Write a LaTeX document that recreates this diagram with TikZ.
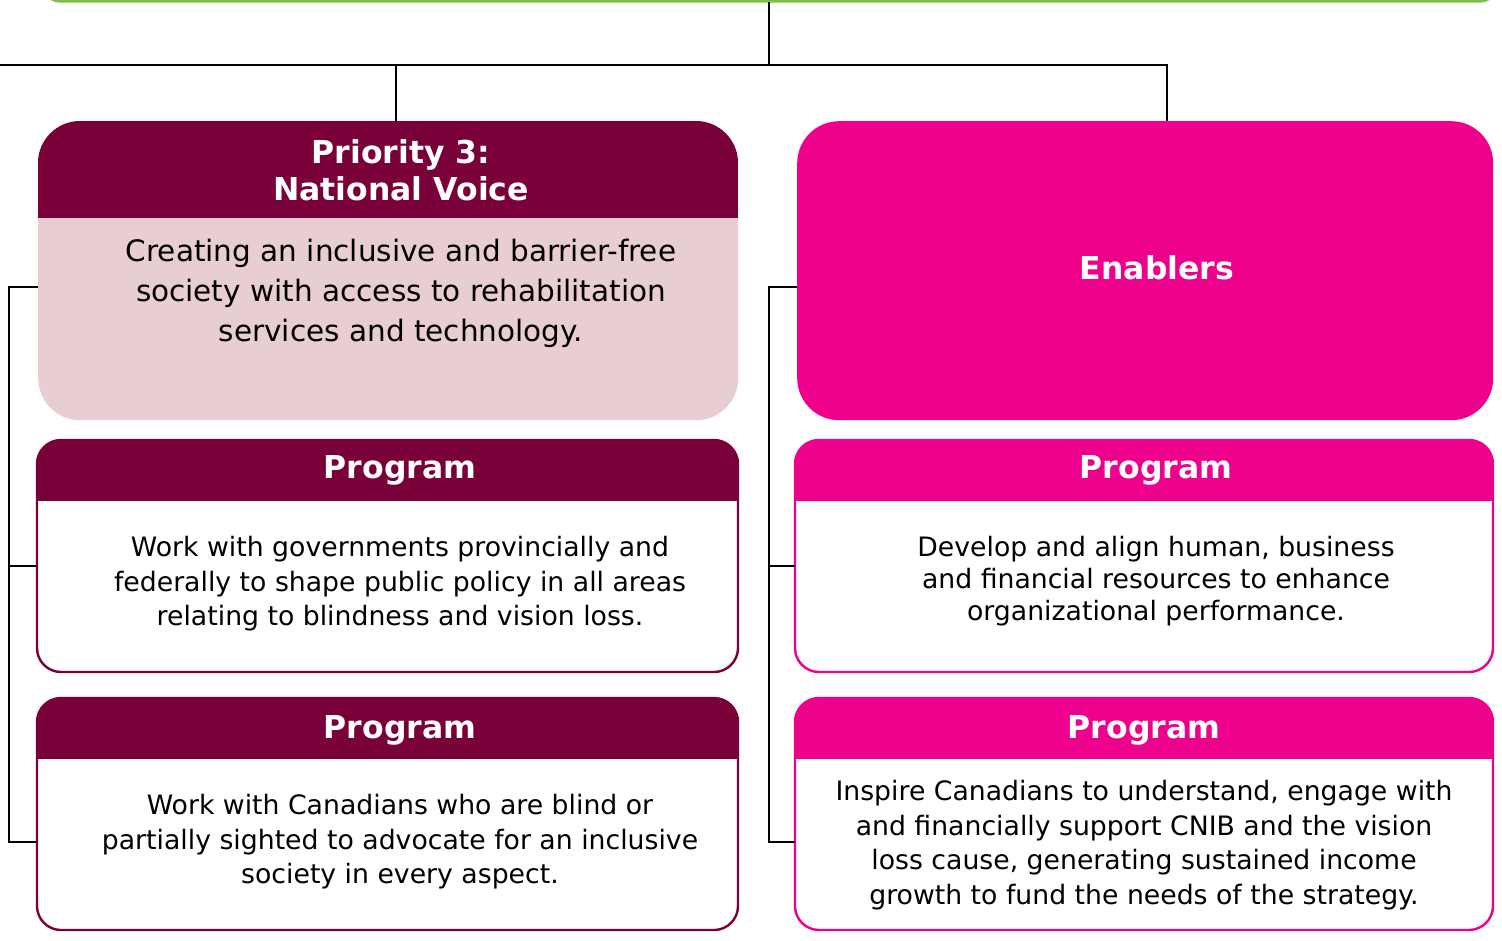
\documentclass[tikz,border=0pt]{standalone}
\usepackage{fontspec}
\setmainfont{DejaVu Sans}
\definecolor{wine}{HTML}{7A0039}
\definecolor{winelight}{HTML}{E8CDD3}
\definecolor{mag}{HTML}{EC008C}
\definecolor{lime}{HTML}{7DC242}
\tikzset{
  conn/.style={draw=black, line width=1.6pt},
  bigbox/.style={rectangle, rounded corners=42pt, minimum width=700pt, minimum height=299pt, anchor=north west, inner sep=0pt},
  progbox/.style={rectangle, rounded corners=24pt, minimum width=701pt, minimum height=232pt, anchor=north west, inner sep=0pt, line width=2.4pt},
  hdr/.style={text=white, font=\bfseries\fontsize{31.5}{36}\selectfont, align=center},
  bodytxt/.style={text=black, font=\fontsize{26.7}{34.5}\selectfont, align=center},
}
\begin{document}
\begin{tikzpicture}[x=1pt,y=-1pt]
\useasboundingbox (0,0) rectangle (1502,940);
% top green box bottom edge
\begin{scope}
\clip (0,0) rectangle (1502,940);
\draw[lime, line width=4pt, rounded corners=14pt] (45,-40) -- (45,0.5) -- (1495,0.5) -- (1495,-40);
\end{scope}
\coordinate (top) at (769,2);
\coordinate (busL) at (0,65);
\coordinate (busM) at (769,65);

% Priority 3 box
\node[bigbox, fill=winelight] (p3) at (38,121) {};
\begin{scope}
\clip[rounded corners=42pt] (38,121) rectangle (738,420);
\fill[wine] (38,121) rectangle (738,218);
\end{scope}
\node[hdr, font=\bfseries\fontsize{31.5}{37}\selectfont] (p3h) at (401,170) {Priority 3:\\National Voice};
\node[bodytxt, font=\fontsize{29.5}{40}\selectfont] (p3b) at (401,293) {Creating an inclusive and barrier-free\\society with access to rehabilitation\\services and technology.};

% Enablers box
\node[bigbox, fill=mag, minimum width=696pt] (en) at (797,121) {};
\node[hdr] (enh) at (1157,268) {Enablers};

% Left program boxes
\node[progbox, fill=white] (l1) at (37,440) {};
\begin{scope}
\clip[rounded corners=24pt] (37,440) rectangle (738,672);
\fill[wine] (37,440) rectangle (738,501);
\end{scope}
\draw[wine, line width=2.4pt, rounded corners=24pt] (37,440) rectangle (738,672);
\node[hdr] (l1h) at (400,470) {Program};
\node[bodytxt] (l1b) at (400,584) {Work with governments provincially and\\federally to shape public policy in all areas\\relating to blindness and vision loss.};

\node[progbox, fill=white] (l2) at (37,698) {};
\begin{scope}
\clip[rounded corners=24pt] (37,698) rectangle (738,930);
\fill[wine] (37,698) rectangle (738,759);
\end{scope}
\draw[wine, line width=2.4pt, rounded corners=24pt] (37,698) rectangle (738,930);
\node[hdr] (l2h) at (400,730) {Program};
\node[bodytxt] (l2b) at (400,842) {Work with Canadians who are blind or\\partially sighted to advocate for an inclusive\\society in every aspect.};

% Right program boxes
\node[progbox, fill=white, minimum width=698pt] (r1) at (795,440) {};
\begin{scope}
\clip[rounded corners=24pt] (795,440) rectangle (1493,672);
\fill[mag] (795,440) rectangle (1493,501);
\end{scope}
\draw[mag, line width=2.4pt, rounded corners=24pt] (795,440) rectangle (1493,672);
\node[hdr] (r1h) at (1156,470) {Program};
\node[bodytxt, font=\fontsize{26.7}{32}\selectfont] (r1b) at (1156,581) {Develop and align human, business\\and financial resources to enhance\\organizational performance.};

\node[progbox, fill=white, minimum width=698pt] (r2) at (795,698) {};
\begin{scope}
\clip[rounded corners=24pt] (795,698) rectangle (1493,930);
\fill[mag] (795,698) rectangle (1493,759);
\end{scope}
\draw[mag, line width=2.4pt, rounded corners=24pt] (795,698) rectangle (1493,930);
\node[hdr] (r2h) at (1144,730) {Program};
\node[bodytxt, font=\fontsize{26.7}{34.7}\selectfont] (r2b) at (1144,845) {Inspire Canadians to understand, engage with\\and financially support CNIB and the vision\\loss cause, generating sustained income\\growth to fund the needs of the strategy.};

% connectors
\coordinate (lj) at (9,566);
\coordinate (rj) at (769,566);
\draw[conn] (top) -- (busM);
\draw[conn] (busL) -- (1167,65) -- (en.north -| 1167,0);
\draw[conn] (396,65) -- (p3.north -| 396,0);
\draw[conn] (p3.west |- 0,287) -| (lj) -- (l1.west |- lj);
\draw[conn] (lj) |- (l2.west |- 0,842);
\draw[conn] (en.west |- 0,287) -| (rj) -- (r1.west |- rj);
\draw[conn] (rj) |- (r2.west |- 0,842);
\end{tikzpicture}
\end{document}
